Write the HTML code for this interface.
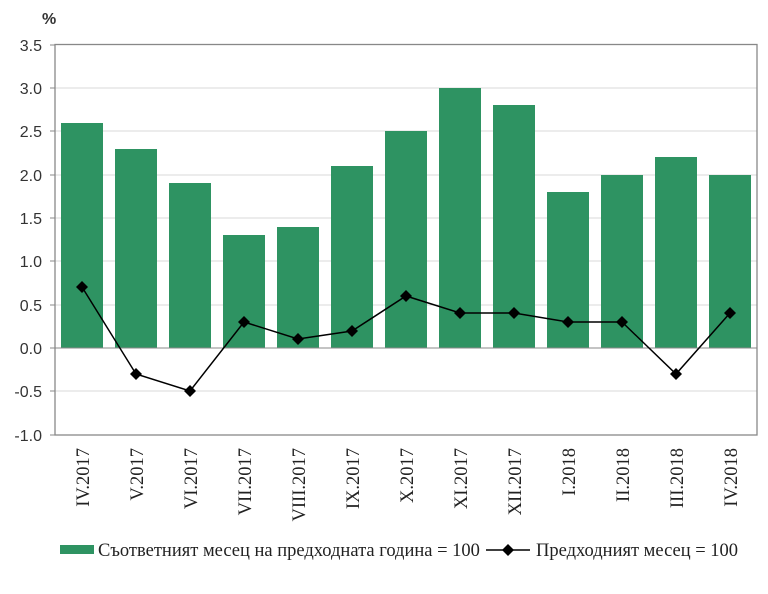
<!DOCTYPE html>
<html><head><meta charset="utf-8"><style>
body{margin:0;background:#fff;}
text{font-family:"Liberation Serif",serif;fill:#222;}
text.y{font-family:"Liberation Sans",sans-serif;font-size:16px;fill:#333;}
</style></head><body>
<svg width="768" height="589" xmlns="http://www.w3.org/2000/svg">
<text x="42" y="24" class="y" style="font-weight:bold">%</text>
<g stroke="#d9d9d9" stroke-width="1">
<line x1="55" x2="757" y1="88" y2="88"/><line x1="55" x2="757" y1="131" y2="131"/>
<line x1="55" x2="757" y1="175" y2="175"/><line x1="55" x2="757" y1="218" y2="218"/>
<line x1="55" x2="757" y1="261" y2="261"/><line x1="55" x2="757" y1="305" y2="305"/>
<line x1="55" x2="757" y1="391" y2="391"/>
</g>
<g fill="#2e9362">
<rect x="61" y="123" width="42" height="225"/>
<rect x="115" y="149" width="42" height="199"/>
<rect x="169" y="183" width="42" height="165"/>
<rect x="223" y="235" width="42" height="113"/>
<rect x="277" y="227" width="42" height="121"/>
<rect x="331" y="166" width="42" height="182"/>
<rect x="385" y="131" width="42" height="217"/>
<rect x="439" y="88" width="42" height="260"/>
<rect x="493" y="105" width="42" height="243"/>
<rect x="547" y="192" width="42" height="156"/>
<rect x="601" y="175" width="42" height="173"/>
<rect x="655" y="157" width="42" height="191"/>
<rect x="709" y="175" width="42" height="173"/>
</g>
<line x1="55" x2="757" y1="348" y2="348" stroke="#888" stroke-width="1"/>
<rect x="55" y="44.5" width="702" height="390.5" fill="none" stroke="#888" stroke-width="1.3"/>
<g stroke="#888"><line x1="50" x2="55" y1="45" y2="45"/><line x1="50" x2="55" y1="88" y2="88"/><line x1="50" x2="55" y1="131" y2="131"/><line x1="50" x2="55" y1="175" y2="175"/><line x1="50" x2="55" y1="218" y2="218"/><line x1="50" x2="55" y1="261" y2="261"/><line x1="50" x2="55" y1="305" y2="305"/><line x1="50" x2="55" y1="348" y2="348"/><line x1="50" x2="55" y1="391" y2="391"/><line x1="50" x2="55" y1="435" y2="435"/></g>
<g text-anchor="end">
<text class="y" x="42" y="51">3.5</text><text class="y" x="42" y="94">3.0</text><text class="y" x="42" y="137">2.5</text><text class="y" x="42" y="181">2.0</text><text class="y" x="42" y="224">1.5</text><text class="y" x="42" y="267">1.0</text><text class="y" x="42" y="311">0.5</text><text class="y" x="42" y="354">0.0</text><text class="y" x="42" y="397">-0.5</text><text class="y" x="42" y="441">-1.0</text>
</g>
<polyline fill="none" stroke="#000" stroke-width="1.5" points="82,287 136,374 190,391 244,322 298,339 352,331 406,296 460,313 514,313 568,322 622,322 676,374 730,313"/>
<g fill="#000">
<path d="M82 281l6 6-6 6-6-6z"/><path d="M136 368l6 6-6 6-6-6z"/><path d="M190 385l6 6-6 6-6-6z"/><path d="M244 316l6 6-6 6-6-6z"/><path d="M298 333l6 6-6 6-6-6z"/><path d="M352 325l6 6-6 6-6-6z"/><path d="M406 290l6 6-6 6-6-6z"/><path d="M460 307l6 6-6 6-6-6z"/><path d="M514 307l6 6-6 6-6-6z"/><path d="M568 316l6 6-6 6-6-6z"/><path d="M622 316l6 6-6 6-6-6z"/><path d="M676 368l6 6-6 6-6-6z"/><path d="M730 307l6 6-6 6-6-6z"/>
</g>
<g font-size="18.5" text-anchor="end">
<text transform="translate(89,448) rotate(-90)">IV.2017</text>
<text transform="translate(143,448) rotate(-90)">V.2017</text>
<text transform="translate(197,448) rotate(-90)">VI.2017</text>
<text transform="translate(251,448) rotate(-90)">VII.2017</text>
<text transform="translate(305,448) rotate(-90)">VIII.2017</text>
<text transform="translate(359,448) rotate(-90)">IX.2017</text>
<text transform="translate(413,448) rotate(-90)">X.2017</text>
<text transform="translate(467,448) rotate(-90)">XI.2017</text>
<text transform="translate(521,448) rotate(-90)">XII.2017</text>
<text transform="translate(575,448) rotate(-90)">I.2018</text>
<text transform="translate(629,448) rotate(-90)">II.2018</text>
<text transform="translate(683,448) rotate(-90)">III.2018</text>
<text transform="translate(737,448) rotate(-90)">IV.2018</text>
</g>
<rect x="60" y="545" width="34" height="9" fill="#2e9362"/>
<text x="98" y="556" font-size="18.5">Съответният месец на предходната година = 100</text>
<line x1="486" x2="530" y1="550" y2="550" stroke="#000" stroke-width="1.5"/>
<path d="M508 544l6 6-6 6-6-6z" fill="#000"/>
<text x="536" y="556" font-size="18.5">Предходният месец = 100</text>
</svg>
</body></html>
